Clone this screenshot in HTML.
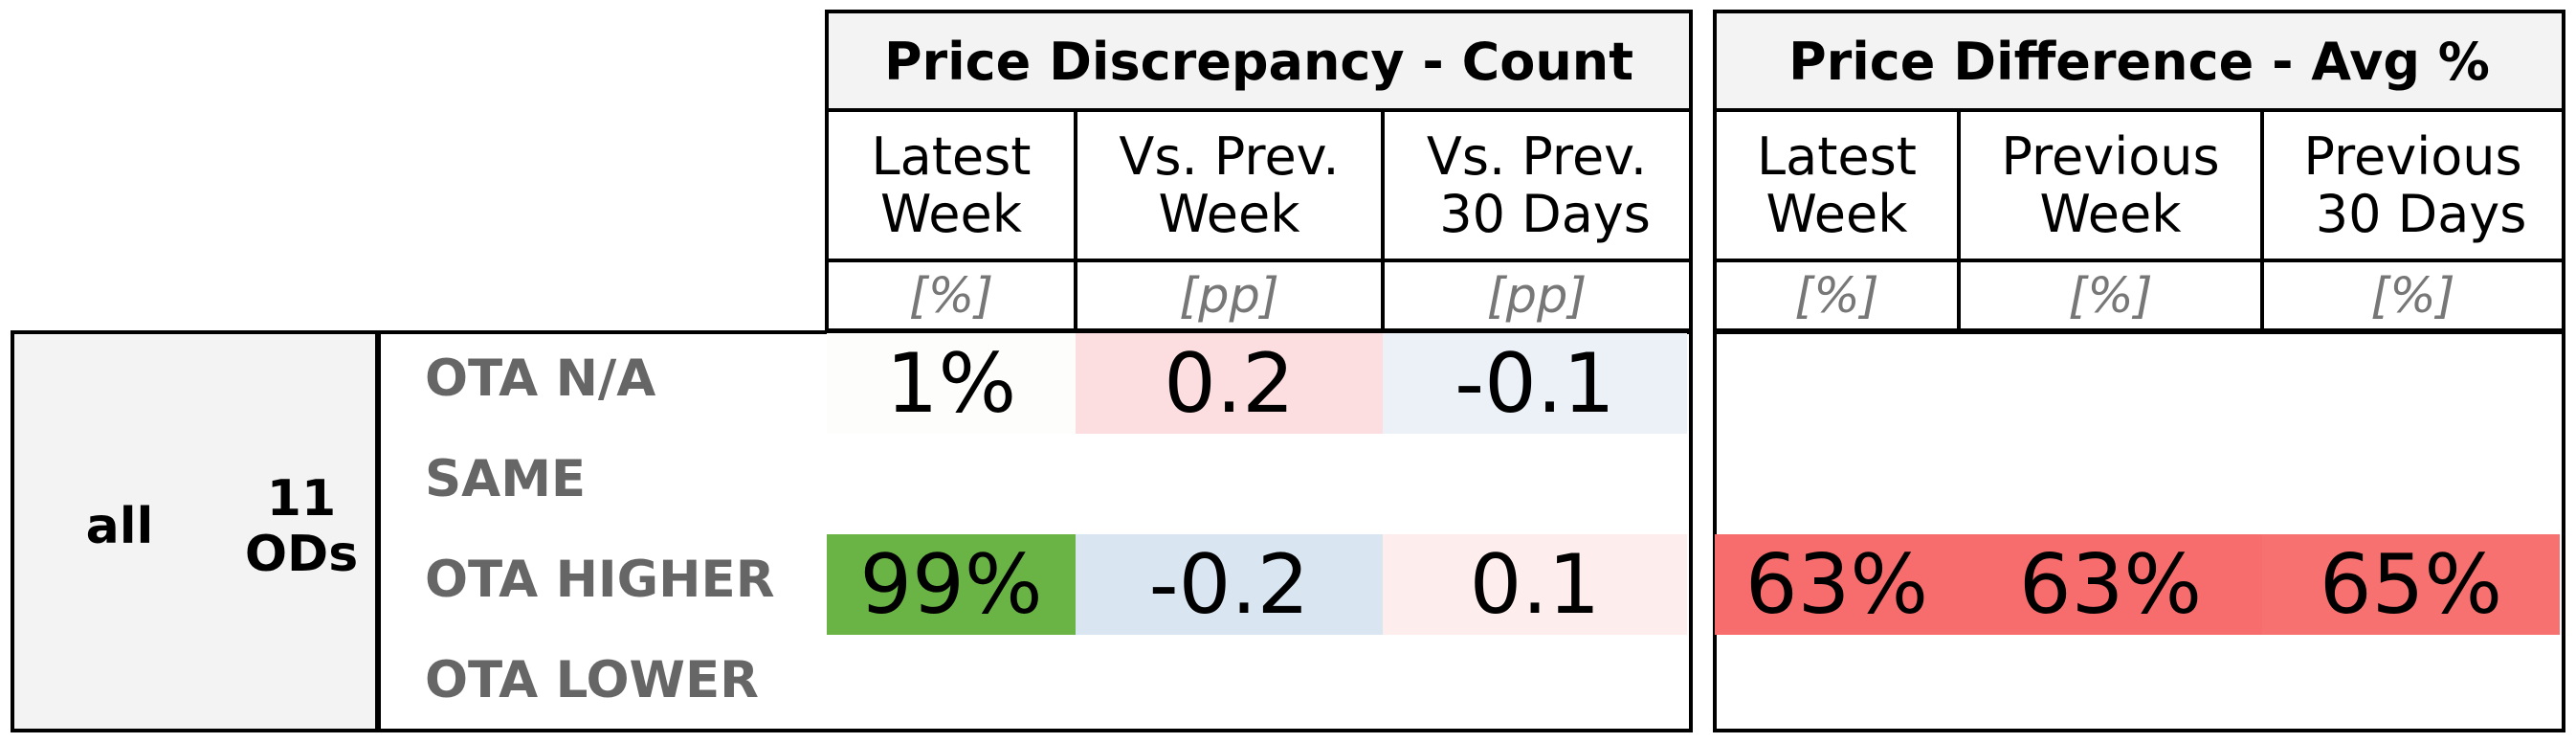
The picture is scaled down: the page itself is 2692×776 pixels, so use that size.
<!DOCTYPE html>
<html><head><meta charset="utf-8"><style>
body{margin:0;width:2692px;height:776px;background:#fff;position:relative;overflow:hidden;font-family:"DejaVu Sans","Liberation Sans",sans-serif}
.a{position:absolute;box-sizing:border-box}
.t{display:flex;align-items:center;justify-content:center;text-align:center}
.title{font-weight:bold;font-size:54px;color:#000;background:#f3f3f3}
.sub{font-size:54px;line-height:60px;color:#000}
.unit{font-style:italic;font-size:51px;color:#777}
.lab{font-weight:bold;font-size:53px;color:#666;justify-content:flex-start}
.val{font-size:86px;color:#000}
.vl{background:#000}
</style></head><body>
<div id="root"></div>
<script>
const cols1=[864,1124,1445,1767];
const cols2=[1792,2047,2364,2679];
const rowLabels=["OTA N/A","SAME","OTA HIGHER","OTA LOWER"];
const subHeaders1=["Latest<br>Week","Vs. Prev.<br>Week","Vs. Prev.<br>&nbsp;30 Days"];
const subHeaders2=["Latest<br>Week","Previous<br>Week","Previous<br>&nbsp;30 Days"];
const units1=["[%]","[pp]","[pp]"];
const units2=["[%]","[%]","[%]"];
const countValues=[["1%","0.2","-0.1"],["","",""],["99%","-0.2","0.1"],["","",""]];
const countColors=[["#fdfdfb","#fcdee0","#ecf1f8"],[null,null,null],["#6ab446","#d9e5f1","#fdeded"],[null,null,null]];
const avgValues=[["","",""],["","",""],["63%","63%","65%"],["","",""]];
const avgColors=[[null,null,null],[null,null,null],["#f76d6d","#f76d6d","#f6716f"],[null,null,null]];
const R=document.getElementById('root');
function box(x,y,w,h,cls,html,bg){const d=document.createElement('div');d.className='a '+cls;d.style.left=x+'px';d.style.top=y+'px';d.style.width=w+'px';d.style.height=h+'px';if(bg)d.style.background=bg;if(html!=null)d.innerHTML=html;R.appendChild(d);return d;}
const rowTop=347,rowH=105;
let e=box(11,345,385,420,'','', '#f3f3f3');e.style.border='4px solid #000';


e=box(60,500,130,100,'t','all');e.style.fontWeight='bold';e.style.fontSize='52px';


e=box(240,490,150,120,'t','11<br>ODs');e.style.fontWeight='bold';e.style.fontSize='52px';e.style.lineHeight='58px';


e=box(394,345,1375,420,'','');e.style.border='4px solid #000';


e=box(1790,345,891,420,'','');e.style.border='4px solid #000';


rowLabels.forEach((l,i)=>{const d=box(444,rowTop+i*rowH-4,420,rowH,'t lab',l);

});
function table(cols,title,subs,units,vals,colors,key){
 const L=cols[0],Rr=cols[cols.length-1];
 let f=box(L-2,10,Rr-L+4,337,'');f.style.border='4px solid #000';
 
 
 let t=box(L+2,14,Rr-L-4,100,'t title',title);
 
 
 box(L,113,Rr-L,4,'vl');box(L,270,Rr-L,4,'vl');
 for(let c=0;c<3;c++){
  const x=cols[c],w=cols[c+1]-cols[c];
  if(c>0){box(x-2,113,4,234,'vl');}
  let s=box(x,117,w,153,'t sub',subs[c]);
  
  
  let u=box(x,274,w,70,'t unit',units[c]);
  
  
  for(let r=0;r<vals.length;r++){
   const bg=colors[r][c];
   if(!bg&&!vals[r][c])continue;
   let v=box(x,rowTop+r*rowH+1,w-(c==2?4:0),rowH,'t val',vals[r][c],bg);
   
   
  }
 }
}
table(cols1,'Price Discrepancy - Count',subHeaders1,units1,countValues,countColors,'count');
table(cols2,'Price Difference - Avg %',subHeaders2,units2,avgValues,avgColors,'avg');
</script>
</body></html>
